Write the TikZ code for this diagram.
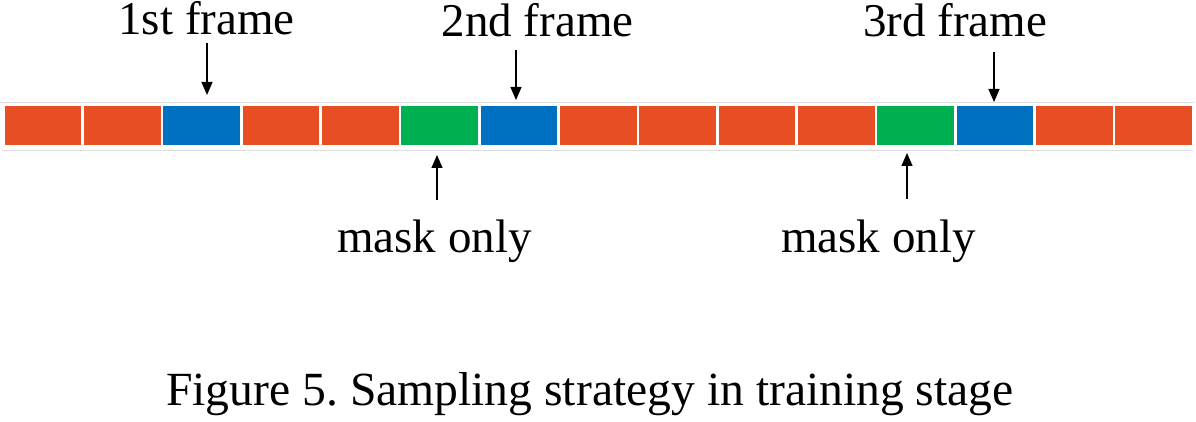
\documentclass[tikz,border=0pt]{standalone}
\usepackage{fontspec}
\setmainfont{Liberation Serif}
\usetikzlibrary{arrows.meta}
\frenchspacing
\definecolor{cellred}{HTML}{E84E24}
\definecolor{cellblue}{HTML}{0070C0}
\definecolor{cellgreen}{HTML}{00B050}
\definecolor{rulegray}{HTML}{DCDCDC}
\tikzset{
  cell/.style={draw=white, line width=0.6pt, minimum width=77.6pt, minimum height=40.6pt, inner sep=0pt, anchor=north west},
  lbl/.style={inner sep=0pt, anchor=base, font=\fontsize{47}{56}\selectfont},
  caplbl/.style={inner sep=0pt, anchor=base, font=\fontsize{47.6}{56}\selectfont},
  arr/.style={line width=1.3pt, -{Triangle[length=13pt,width=11pt]}},
}
\begin{document}
\begin{tikzpicture}[x=1pt,y=-1pt]
\useasboundingbox (0,0) rectangle (1196,422);
% thin gray rules
\draw[rulegray, line width=1pt] (0,102.7) -- (1194,102.7);
\draw[rulegray, line width=1pt] (2,151) -- (1193,151);
% cells
\foreach \i/\c in {0/cellred,1/cellred,2/cellblue,3/cellred,4/cellred,5/cellgreen,6/cellblue,7/cellred,8/cellred,9/cellred,10/cellred,11/cellgreen,12/cellblue,13/cellred,14/cellred}{
  \node[cell, fill=\c] (c\i) at ({3.7+79.33*\i},104.7) {};
}
% labels
\node[lbl] (t1) at (206.5,35) {1st frame};
\node[lbl] (t2) at (537.5,37) {2nd frame};
\node[lbl] (t3) at (955,37) {3rd frame};
\node[lbl] (m1) at (434.5,252) {mask only};
\node[lbl] (m2) at (878.5,252) {mask only};
\node[caplbl] (cap) at (590,405) {Figure 5. Sampling strategy in training stage};
% arrow endpoints
\coordinate (a1s) at (207,43);  \coordinate (a1e) at (207,95);
\coordinate (a2s) at (516,50);  \coordinate (a2e) at (516,100);
\coordinate (a3s) at (994,52);  \coordinate (a3e) at (994,102);
\coordinate (b1s) at (437,200); \coordinate (b1e) at (437,155);
\coordinate (b2s) at (907,199); \coordinate (b2e) at (907,153);
\draw[arr] (a1s) -- (a1e);
\draw[arr] (a2s) -- (a2e);
\draw[arr] (a3s) -- (a3e);
\draw[arr] (b1s) -- (b1e);
\draw[arr] (b2s) -- (b2e);
\end{tikzpicture}
\end{document}
